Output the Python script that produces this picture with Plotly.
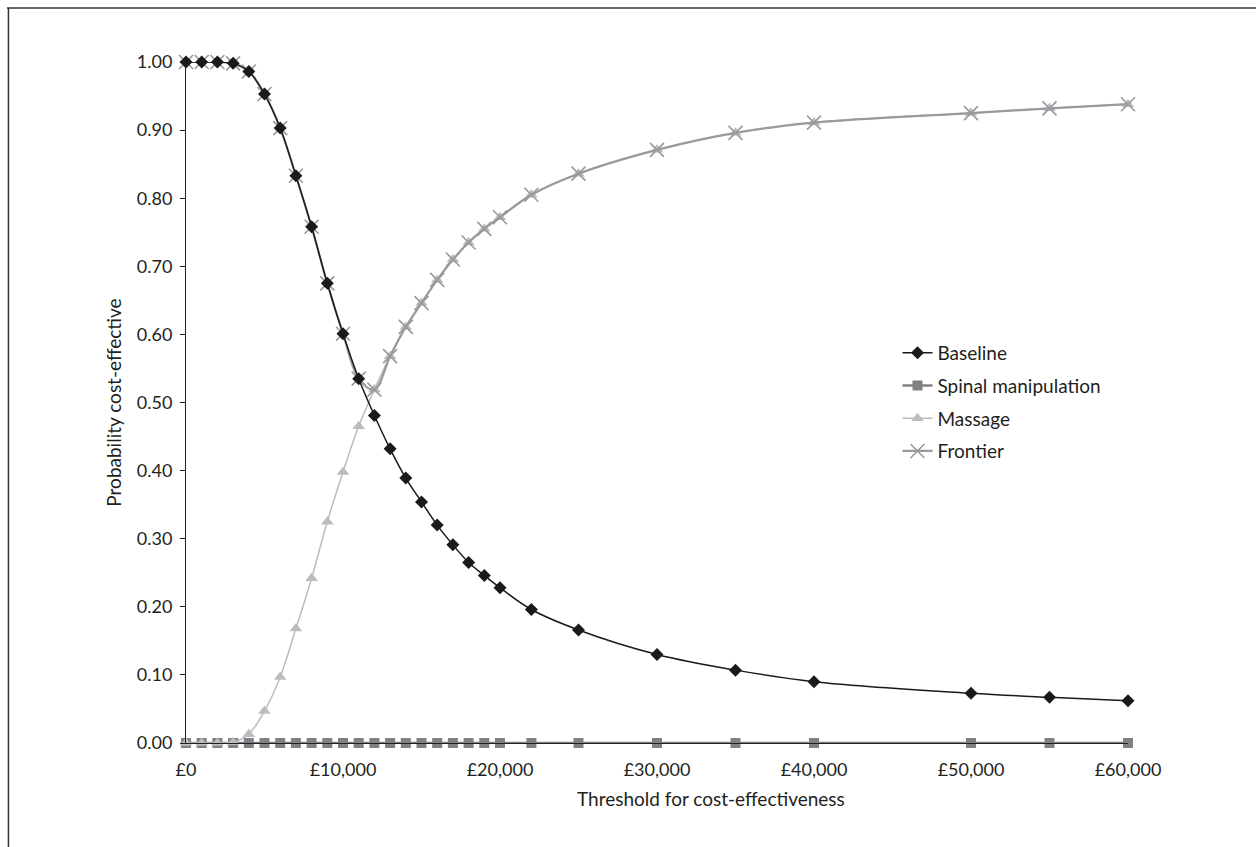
import plotly.graph_objects as go

thresholds = [0, 1000, 2000, 3000, 4000, 5000, 6000, 7000, 8000, 9000, 10000,
              11000, 12000, 13000, 14000, 15000, 16000, 17000, 18000, 19000, 20000,
              22000, 25000, 30000, 35000, 40000, 50000, 55000, 60000]
baseline = [1.000, 1.000, 1.000, 0.998, 0.986, 0.953, 0.903, 0.833, 0.758, 0.675, 0.601,
            0.535, 0.481, 0.432, 0.389, 0.354, 0.320, 0.291, 0.265, 0.246, 0.228,
            0.196, 0.166, 0.130, 0.107, 0.090, 0.073, 0.067, 0.062]
spinal = [0.0] * 29
massage = [0.000, 0.000, 0.000, 0.001, 0.013, 0.047, 0.097, 0.168, 0.242, 0.325, 0.398,
           0.465, 0.519, 0.568, 0.611, 0.646, 0.680, 0.710, 0.735, 0.755, 0.772,
           0.805, 0.836, 0.871, 0.896, 0.911, 0.925, 0.932, 0.938]
frontier = [1.000, 1.000, 1.000, 0.998, 0.986, 0.953, 0.903, 0.833, 0.758, 0.675, 0.601,
            0.535, 0.519, 0.568, 0.611, 0.646, 0.680, 0.710, 0.735, 0.755, 0.772,
            0.805, 0.836, 0.871, 0.896, 0.911, 0.925, 0.932, 0.938]
y_ticks = [0, 0.1, 0.2, 0.3, 0.4, 0.5, 0.6, 0.7, 0.8, 0.9, 1.0]
x_ticks = [0, 10000, 20000, 30000, 40000, 50000, 60000]
x_labels = ["£0", "£10,000", "£20,000", "£30,000", "£40,000", "£50,000", "£60,000"]
x_title = "Threshold for cost-effectiveness"
y_title = "Probability cost-effective"

FONT = "Lato, 'Open Sans', sans-serif"
TXT = "#231f20"

fig = go.Figure()
fig.add_trace(go.Scatter(
    x=thresholds, y=spinal, name="Spinal manipulation", legendrank=2,
    legendgroup="b", mode="lines+markers", line=dict(color="#808085", width=2.5, shape="spline"),
    marker=dict(symbol="square", size=10, color="#808085"), cliponaxis=False))
fig.add_trace(go.Scatter(
    x=thresholds, y=massage, name="Massage", legendrank=3, legendgroup="c",
    mode="lines+markers", line=dict(color="#bcbcc0", width=1.5, shape="spline"),
    marker=dict(symbol="triangle-up", size=11, color="#bcbcc0"), cliponaxis=False))
fig.add_trace(go.Scatter(
    x=thresholds, y=frontier, name="Frontier", legendrank=4, legendgroup="d",
    mode="lines+markers", line=dict(color="#9a9a9e", width=2.2, shape="spline"),
    marker=dict(symbol="x-thin", size=14, line=dict(color="#9a9a9e", width=1.6)),
    cliponaxis=False))
fig.add_trace(go.Scatter(
    x=thresholds, y=baseline, name="Baseline", legendrank=1, legendgroup="a",
    mode="lines+markers", line=dict(color="#1a1a1a", width=1.5, shape="spline"),
    marker=dict(symbol="diamond", size=10, color="#1a1a1a"), cliponaxis=False))

fig.update_layout(
    width=1256, height=847,
    margin=dict(l=186, r=128, t=62, b=104),
    paper_bgcolor="white", plot_bgcolor="white",
    font=dict(family=FONT, size=18, color=TXT),
    showlegend=True,
    legend=dict(x=0.7553, y=0.6006, xanchor="left", yanchor="top", itemwidth=30,
                font=dict(size=19, color=TXT), tracegroupgap=5,
                bgcolor="rgba(0,0,0,0)", borderwidth=0),
    xaxis=dict(range=[0, 60000], tickvals=x_ticks, ticktext=x_labels,
               showgrid=False, zeroline=False, showline=True, linecolor="#231f20",
               linewidth=1, ticks="", tickfont=dict(size=18), ticklabelstandoff=10),
    yaxis=dict(range=[0, 1], tickvals=y_ticks, tickformat=".2f",
               showgrid=False, zeroline=False, showline=True, linecolor="#231f20",
               linewidth=1, ticks="outside", ticklen=5, tickcolor="#231f20",
               tickfont=dict(size=18), ticklabelstandoff=4,
               title=dict(text=y_title, font=dict(size=19), standoff=10)),
    annotations=[
        dict(text=x_title, xref="paper", yref="paper", x=0.557, y=-0.0822,
             xanchor="center", yanchor="middle", showarrow=False,
             font=dict(size=19, color=TXT)),
    ],
    shapes=[
        dict(type="line", xref="paper", yref="paper", x0=-0.19, x1=1.15,
             y0=1.0793, y1=1.0793, line=dict(color="#333333", width=1.5)),
        dict(type="line", xref="paper", yref="paper", x0=-0.1885, x1=-0.1885,
             y0=1.0793, y1=-0.16, line=dict(color="#333333", width=1.5)),
    ],
)

fig.write_html("out.html")
